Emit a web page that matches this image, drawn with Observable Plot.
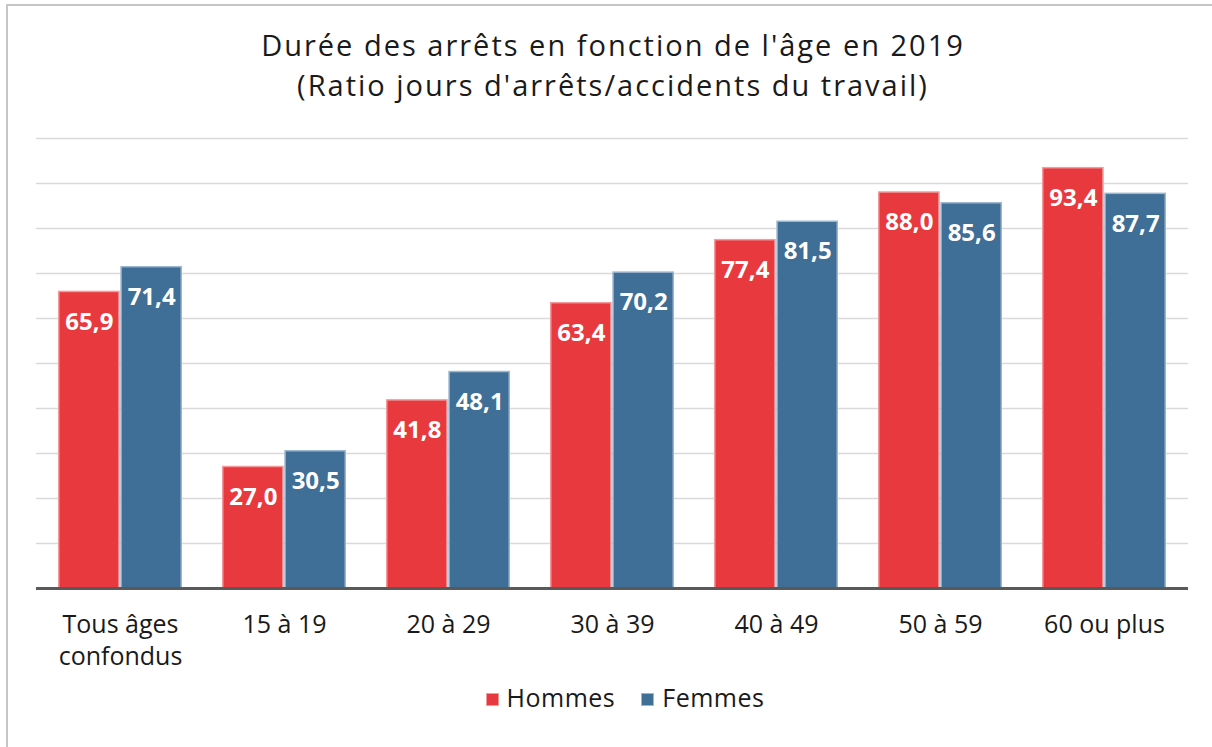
<!DOCTYPE html>
<html>
<head>
<meta charset="utf-8">
<script src="https://cdn.jsdelivr.net/npm/d3@7"></script>
<script src="https://cdn.jsdelivr.net/npm/@observablehq/plot@0.6"></script>
<style>
  body { margin: 0; background: #fff; font-family: "Open Sans", "DejaVu Sans", sans-serif; }
  #wrap { position: relative; width: 1212px; height: 747px; overflow: hidden; }
  #frame { position: absolute; left: 6px; top: 4px; width: 1230px; height: 770px; border: 2px solid #c6c6c6; box-sizing: border-box; }
  #title { position: absolute; left: 0; top: 25px; width: 1226px; text-align: center; font-size: 29px; line-height: 40px; color: #1a1a1a; letter-spacing: 2px; }
  #chart { position: absolute; left: 0; top: 120px; }
  #legend { position: absolute; left: 0; top: 680px; width: 1250px; text-align: center; font-size: 25px; color: #1a1a1a; letter-spacing: 0.5px; }
  #legend span.sw { display: inline-block; width: 13px; height: 13px; margin-right: 8px; vertical-align: 1px; box-sizing: border-box; }
  #legend span.item { margin: 0 13px; }
</style>
</head>
<body>
<div id="wrap">
  <div id="frame"></div>
  <div id="title">Durée des arrêts en fonction de l'âge en 2019<br>(Ratio jours d'arrêts/accidents du travail)</div>
  <div id="chart"></div>
  <div id="legend"></div>
</div>
<script>
const categories = ["Tous âges\nconfondus", "15 à 19", "20 à 29", "30 à 39", "40 à 49", "50 à 59", "60 ou plus"];
const series = ["Hommes", "Femmes"];
const hommes = [65.9, 27.0, 41.8, 63.4, 77.4, 88.0, 93.4];
const femmes = [71.4, 30.5, 48.1, 70.2, 81.5, 85.6, 87.7];
const colors = ["#E8393F", "#3F6E96"];
const strokes = ["#F39A9D", "#9DB7D0"];
const gridTicks = [10, 20, 30, 40, 50, 60, 70, 80, 90, 100];

const hData = categories.map((c, i) => ({cat: c, sex: series[0], value: hommes[i]}));
const fData = categories.map((c, i) => ({cat: c, sex: series[1], value: femmes[i]}));

const fmt = v => v.toFixed(1).replace(".", ",");

const W = 1212, mL = 36, mR = 24;
const padIn = 0.243, padOut = 0.1215;
const step = (W - mL - mR) / (categories.length - padIn + 2 * padOut);
const half = step * (1 - padIn) / 2;

const chart = Plot.plot({
  width: W,
  height: 560,
  marginLeft: mL,
  marginRight: mR,
  marginTop: 18,
  marginBottom: 92,
  style: {fontFamily: "'Open Sans', 'DejaVu Sans', sans-serif", background: "transparent"},
  x: {domain: categories, paddingInner: padIn, paddingOuter: padOut, label: null},
  y: {domain: [0, 100], axis: null},
  marks: [
    Plot.gridY(gridTicks, {stroke: "#d9d9d9", strokeOpacity: 1, strokeWidth: 1.5}),
    Plot.barY(hData, {x: "cat", y: "value", fill: colors[0], stroke: strokes[0], strokeWidth: 1.5, insetLeft: 0.75, insetRight: half + 0.75}),
    Plot.barY(fData, {x: "cat", y: "value", fill: colors[1], stroke: strokes[1], strokeWidth: 1.5, insetLeft: half + 0.75, insetRight: 0.75}),
    Plot.text(hData, {x: "cat", y: "value", text: d => fmt(d.value), dx: -half / 2, dy: 30, fill: "white", fontWeight: "bold", fontSize: 24}),
    Plot.text(fData, {x: "cat", y: "value", text: d => fmt(d.value), dx: half / 2, dy: 30, fill: "white", fontWeight: "bold", fontSize: 24}),
    Plot.ruleY([0], {stroke: "#595959", strokeWidth: 3}),
    Plot.axisX({anchor: "bottom", tickSize: 0, tickPadding: 21, fontSize: 25, fill: "#1a1a1a", label: null, lineHeight: 1.3, textAnchor: "middle"})
  ]
});
document.getElementById("chart").appendChild(chart);

const legend = document.getElementById("legend");
series.forEach((s, i) => {
  const item = document.createElement("span");
  item.className = "item";
  const sw = document.createElement("span");
  sw.className = "sw";
  sw.style.background = colors[i];
  sw.style.border = "1.5px solid " + strokes[i];
  item.appendChild(sw);
  item.appendChild(document.createTextNode(s));
  legend.appendChild(item);
});
</script>
</body>
</html>
